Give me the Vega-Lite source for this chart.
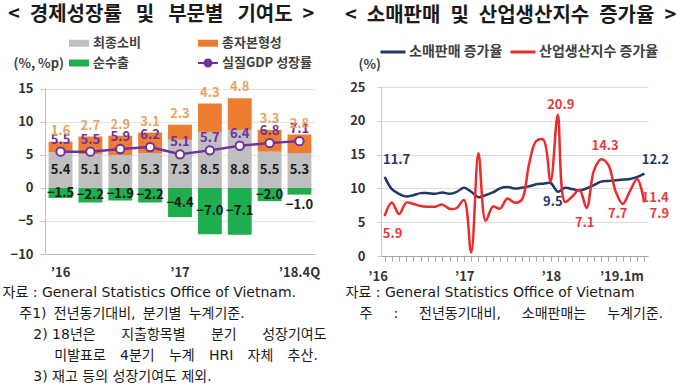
{
  "$schema": "https://vega.github.io/schema/vega-lite/v6.json",
  "background": "white",
  "padding": {"left": 2, "top": 5, "right": 0, "bottom": 0},
  "spacing": 66,
  "bounds": "flush",
  "config": {
    "view": {"stroke": null},
    "font": "Noto Sans CJK KR",
    "axis": {"labelFont": "Noto Sans CJK KR", "labelFontSize": 13, "labelFontWeight": "bold", "labelColor": "#333333", "titleFont": "Noto Sans CJK KR", "titleColor": "#333333"},
    "axisY": {"labelOverlap": false, "tickCount": 6},
    "text": {"font": "Noto Sans CJK KR"}
  },
  "resolve": {"scale": {"color": "independent"}, "legend": {"color": "independent"}},
  "datasets": {
    "gdp": [
      {"q": "16Q1", "cons": 5.4, "gcf": 1.6, "net": -1.5, "gdp": 5.5},
      {"q": "16Q2", "cons": 5.1, "gcf": 2.7, "net": -2.2, "gdp": 5.5},
      {"q": "16Q3", "cons": 5.0, "gcf": 2.9, "net": -1.9, "gdp": 5.9},
      {"q": "16Q4", "cons": 5.3, "gcf": 3.1, "net": -2.2, "gdp": 6.2},
      {"q": "17Q1", "cons": 7.3, "gcf": 2.3, "net": -4.4, "gdp": 5.1},
      {"q": "17Q2", "cons": 8.5, "gcf": 4.3, "net": -7.0, "gdp": 5.7},
      {"q": "17Q3", "cons": 8.8, "gcf": 4.8, "net": -7.1, "gdp": 6.4},
      {"q": "17Q4", "cons": 5.5, "gcf": 3.3, "net": -2.0, "gdp": 6.8},
      {"q": "18.4Q", "cons": 5.3, "gcf": 2.8, "net": -1.0, "gdp": 7.1}
    ],
    "sales": [
      {"m": "2016-01", "retail": 11.7, "iip": 5.9},
      {"m": "2016-02", "retail": 9.9, "iip": 7.9},
      {"m": "2016-03", "retail": 9.2, "iip": 6.2},
      {"m": "2016-04", "retail": 8.8, "iip": 7.9},
      {"m": "2016-05", "retail": 9.0, "iip": 7.7},
      {"m": "2016-06", "retail": 9.3, "iip": 7.4},
      {"m": "2016-07", "retail": 9.3, "iip": 7.3},
      {"m": "2016-08", "retail": 9.2, "iip": 7.3},
      {"m": "2016-09", "retail": 9.4, "iip": 7.6},
      {"m": "2016-10", "retail": 9.2, "iip": 7.0},
      {"m": "2016-11", "retail": 9.5, "iip": 7.1},
      {"m": "2016-12", "retail": 10.1, "iip": 8.3},
      {"m": "2017-01", "retail": 9.5, "iip": 0.5},
      {"m": "2017-02", "retail": 8.7, "iip": 15.2},
      {"m": "2017-03", "retail": 9.0, "iip": 5.2},
      {"m": "2017-04", "retail": 9.4, "iip": 7.3},
      {"m": "2017-05", "retail": 10.0, "iip": 7.0},
      {"m": "2017-06", "retail": 10.2, "iip": 8.5},
      {"m": "2017-07", "retail": 10.0, "iip": 7.9},
      {"m": "2017-08", "retail": 10.1, "iip": 8.3},
      {"m": "2017-09", "retail": 10.3, "iip": 13.5},
      {"m": "2017-10", "retail": 10.6, "iip": 17.0},
      {"m": "2017-11", "retail": 10.7, "iip": 17.2},
      {"m": "2017-12", "retail": 10.8, "iip": 11.0},
      {"m": "2018-01", "retail": 9.5, "iip": 20.9},
      {"m": "2018-02", "retail": 10.1, "iip": 8.0},
      {"m": "2018-03", "retail": 9.9, "iip": 8.8},
      {"m": "2018-04", "retail": 9.7, "iip": 9.8},
      {"m": "2018-05", "retail": 10.0, "iip": 7.1},
      {"m": "2018-06", "retail": 10.5, "iip": 12.6},
      {"m": "2018-07", "retail": 11.0, "iip": 14.3},
      {"m": "2018-08", "retail": 11.1, "iip": 13.5},
      {"m": "2018-09", "retail": 11.2, "iip": 9.6},
      {"m": "2018-10", "retail": 11.3, "iip": 7.7},
      {"m": "2018-11", "retail": 11.4, "iip": 9.6},
      {"m": "2018-12", "retail": 11.7, "iip": 11.4},
      {"m": "2019-01", "retail": 12.2, "iip": 7.9}
    ]
  },
  "hconcat": [
    {
      "width": 270,
      "height": 167,
      "data": {"name": "gdp"},
      "title": {"text": "<\u2002경제성장률\u2002\u2009및\u2002\u2009부문별\u2002\u2009기여도\u2002>", "anchor": "start", "frame": "group", "dx": -37, "offset": 7, "fontSize": 20, "fontWeight": "bold", "color": "#1a1a1a", "font": "Noto Sans CJK KR"},
      "encoding": {
        "x": {
          "field": "q", "type": "ordinal", "sort": null,
          "scale": {"paddingInner": 0.2, "paddingOuter": 0.12},
          "axis": {
            "labelExpr": "datum.value == '16Q1' ? '\u201916' : datum.value == '17Q1' ? '\u201917' : datum.value == '18.4Q' ? '\u201918.4Q' : ''",
            "labelAngle": 0, "labelPadding": 12, "ticks": false, "domainColor": "#BFBFBF", "grid": false, "labelOverlap": false,
            "title": [
              "자료 : General Statistics Office of Vietnam.",
              "\u200b\u2003\u2009주1)\u2009 전년동기대비,\u2009 분기별\u2009 누계기준.",
              "\u200b\u2003\u2003\u20092) 18년은\u2003\u2002 지출항목별\u2003\u2002 분기\u2003\u2002 성장기여도",
              "\u200b\u2003\u2003\u2003\u2002\u2009미발표로\u2002\u2009 4분기\u2002\u2009 누계\u2002\u2009 HRI\u2002\u2009 자체\u2002\u2009 추산.",
              "\u200b\u2003\u2003\u20093) 재고 등의 성장기여도 제외."
            ],
            "titleFont": "DejaVu Sans, Noto Sans CJK KR", "titleFontSize": 14, "titleFontWeight": "normal", "titleColor": "#1a1a1a",
            "titleAnchor": null, "titleAlign": "left", "titleBaseline": "top", "titleX": -43, "titleY": 31, "titleLineHeight": 21
          }
        }
      },
      "layer": [
        {
          "transform": [{"fold": ["cons", "gcf", "net"], "as": ["key", "value"]}],
          "mark": {"type": "bar"},
          "encoding": {
            "y": {
              "field": "value", "type": "quantitative", "stack": "zero",
              "scale": {"domain": [-10, 15.3], "nice": false, "zero": false},
              "axis": {"values": [-10, -5, 0, 5, 10, 15], "labelOverlap": false, "grid": true, "gridColor": "#E3E3E3", "domainColor": "#BFBFBF", "tickColor": "#BFBFBF", "tickSize": 5, "labelPadding": 7, "title": "(%, %p)", "titleAngle": 0, "titleAlign": "left", "titleBaseline": "middle", "titleX": -32, "titleY": -24, "titleFontSize": 13, "titleFontWeight": "bold", "titleColor": "#404040"}
            },
            "color": {
              "field": "key", "type": "nominal",
              "scale": {"domain": ["cons", "gcf", "net", "gdp"], "range": ["#BFBFBF", "#ED7D31", "#1FAE4E", "#7030A0"]},
              "legend": {
                "orient": "none", "legendX": 23, "legendY": -55, "direction": "horizontal", "columns": 2, "columnPadding": 53, "rowPadding": 1, "title": null,
                "labelExpr": "datum.value == 'cons' ? '최종소비' : datum.value == 'gcf' ? '총자본형성' : datum.value == 'net' ? '순수출' : '실질GDP 성장률'",
                "labelFont": "Noto Sans CJK KR", "labelFontSize": 13, "labelFontWeight": "bold", "labelColor": "#404040", "labelOffset": 3, "symbolSize": 400,
                "encode": {
                  "symbols": {
                    "update": {
                      "shape": {"signal": "datum.value === 'gdp' ? 'M-1,0H1M0.35,0A0.35,0.35 0 1,1 -0.35,0A0.35,0.35 0 1,1 0.35,0' : 'M-1,-0.35H1V0.35H-1Z'"},
                      "fill": {"signal": "datum.value === 'cons' ? '#BFBFBF' : datum.value === 'gcf' ? '#ED7D31' : datum.value === 'net' ? '#1FAE4E' : '#ffffff'"},
                      "stroke": {"signal": "datum.value === 'gdp' ? '#7030A0' : 'transparent'"},
                      "strokeWidth": {"value": 2},
                      "opacity": {"value": 1}
                    }
                  }
                }
              }
            },
            "order": {"field": "key", "sort": "ascending"}
          }
        },
        {
          "mark": {"type": "line", "color": "#7030A0", "strokeWidth": 2.5},
          "encoding": {"y": {"field": "gdp", "type": "quantitative", "scale": {"domain": [-10, 15.3], "nice": false, "zero": false},
            "axis": {"values": [-10, -5, 0, 5, 10, 15], "labelOverlap": false, "grid": true, "gridColor": "#E3E3E3", "domainColor": "#BFBFBF", "tickColor": "#BFBFBF", "tickSize": 5, "labelPadding": 7, "title": "(%, %p)", "titleAngle": 0, "titleAlign": "left", "titleBaseline": "middle", "titleX": -32, "titleY": -24, "titleFontSize": 13, "titleFontWeight": "bold", "titleColor": "#404040"}}}
        },
        {
          "mark": {"type": "point", "filled": true, "fill": "#ffffff", "stroke": "#7030A0", "strokeWidth": 2, "size": 70, "opacity": 1},
          "encoding": {"y": {"field": "gdp", "type": "quantitative", "scale": {"domain": [-10, 15.3], "nice": false, "zero": false},
            "axis": {"values": [-10, -5, 0, 5, 10, 15], "labelOverlap": false, "grid": true, "gridColor": "#E3E3E3", "domainColor": "#BFBFBF", "tickColor": "#BFBFBF", "tickSize": 5, "labelPadding": 7, "title": "(%, %p)", "titleAngle": 0, "titleAlign": "left", "titleBaseline": "middle", "titleX": -32, "titleY": -24, "titleFontSize": 13, "titleFontWeight": "bold", "titleColor": "#404040"}}}
        },
        {
          "mark": {"type": "text", "dy": -12, "color": "#7030A0", "fontSize": 13, "fontWeight": "bold"},
          "encoding": {
            "y": {"field": "gdp", "type": "quantitative", "scale": {"domain": [-10, 15.3], "nice": false, "zero": false},
              "axis": {"values": [-10, -5, 0, 5, 10, 15], "labelOverlap": false, "grid": true, "gridColor": "#E3E3E3", "domainColor": "#BFBFBF", "tickColor": "#BFBFBF", "tickSize": 5, "labelPadding": 7, "title": "(%, %p)", "titleAngle": 0, "titleAlign": "left", "titleBaseline": "middle", "titleX": -32, "titleY": -24, "titleFontSize": 13, "titleFontWeight": "bold", "titleColor": "#404040"}},
            "text": {"field": "gdp", "type": "quantitative", "format": ".1f"}
          }
        },
        {
          "transform": [{"calculate": "datum.cons + datum.gcf", "as": "top"}],
          "mark": {"type": "text", "dy": -11, "color": "#E9A35F", "fontSize": 13, "fontWeight": "bold"},
          "encoding": {
            "y": {"field": "top", "type": "quantitative", "scale": {"domain": [-10, 15.3], "nice": false, "zero": false},
              "axis": {"values": [-10, -5, 0, 5, 10, 15], "labelOverlap": false, "grid": true, "gridColor": "#E3E3E3", "domainColor": "#BFBFBF", "tickColor": "#BFBFBF", "tickSize": 5, "labelPadding": 7, "title": "(%, %p)", "titleAngle": 0, "titleAlign": "left", "titleBaseline": "middle", "titleX": -32, "titleY": -24, "titleFontSize": 13, "titleFontWeight": "bold", "titleColor": "#404040"}},
            "text": {"field": "gcf", "type": "quantitative", "format": ".1f"}
          }
        },
        {
          "mark": {"type": "text", "color": "#1a1a1a", "fontSize": 13, "fontWeight": "bold"},
          "encoding": {
            "y": {"datum": 2.7, "type": "quantitative", "scale": {"domain": [-10, 15.3], "nice": false, "zero": false},
              "axis": {"values": [-10, -5, 0, 5, 10, 15], "labelOverlap": false, "grid": true, "gridColor": "#E3E3E3", "domainColor": "#BFBFBF", "tickColor": "#BFBFBF", "tickSize": 5, "labelPadding": 7, "title": "(%, %p)", "titleAngle": 0, "titleAlign": "left", "titleBaseline": "middle", "titleX": -32, "titleY": -24, "titleFontSize": 13, "titleFontWeight": "bold", "titleColor": "#404040"}},
            "text": {"field": "cons", "type": "quantitative", "format": ".1f"}
          }
        },
        {
          "transform": [{"filter": "datum.q != '18.4Q'"}, {"calculate": "datum.net / 2", "as": "mid"}],
          "mark": {"type": "text", "color": "#1a1a1a", "fontSize": 13, "fontWeight": "bold"},
          "encoding": {
            "y": {"field": "mid", "type": "quantitative", "scale": {"domain": [-10, 15.3], "nice": false, "zero": false},
              "axis": {"values": [-10, -5, 0, 5, 10, 15], "labelOverlap": false, "grid": true, "gridColor": "#E3E3E3", "domainColor": "#BFBFBF", "tickColor": "#BFBFBF", "tickSize": 5, "labelPadding": 7, "title": "(%, %p)", "titleAngle": 0, "titleAlign": "left", "titleBaseline": "middle", "titleX": -32, "titleY": -24, "titleFontSize": 13, "titleFontWeight": "bold", "titleColor": "#404040"}},
            "text": {"field": "net", "type": "quantitative", "format": ".1f"}
          }
        },
        {
          "transform": [{"filter": "datum.q == '18.4Q'"}],
          "mark": {"type": "text", "dy": 10, "color": "#1a1a1a", "fontSize": 13, "fontWeight": "bold"},
          "encoding": {
            "y": {"field": "net", "type": "quantitative", "scale": {"domain": [-10, 15.3], "nice": false, "zero": false},
              "axis": {"values": [-10, -5, 0, 5, 10, 15], "labelOverlap": false, "grid": true, "gridColor": "#E3E3E3", "domainColor": "#BFBFBF", "tickColor": "#BFBFBF", "tickSize": 5, "labelPadding": 7, "title": "(%, %p)", "titleAngle": 0, "titleAlign": "left", "titleBaseline": "middle", "titleX": -32, "titleY": -24, "titleFontSize": 13, "titleFontWeight": "bold", "titleColor": "#404040"}},
            "text": {"field": "net", "type": "quantitative", "format": ".1f"}
          }
        }
      ]
    },
    {
      "width": 267,
      "height": 169,
      "data": {"name": "sales"},
      "title": {"text": "<\u2002소매판매\u2002및\u2002산업생산지수\u2002증가율\u2002>", "anchor": "start", "frame": "group", "dx": -36, "offset": 12, "fontSize": 20, "fontWeight": "bold", "color": "#1a1a1a", "font": "Noto Sans CJK KR"},
      "encoding": {
        "x": {
          "field": "m", "type": "ordinal", "sort": null,
          "scale": {"type": "point", "padding": 0.5},
          "axis": {
            "labelExpr": "datum.value == '2016-01' ? '\u201916' : datum.value == '2017-01' ? '\u201917' : datum.value == '2018-01' ? '\u201918' : datum.value == '2019-01' ? '\u201919.1m' : ''",
            "labelAngle": 0, "labelPadding": 9, "labelOverlap": false,
            "labelAlign": {"condition": {"test": "datum.value == '2019-01'", "value": "right"}, "value": "center"},
            "labelOffset": {"condition": {"test": "datum.value == '2019-01'", "value": -1}, "value": -7},
            "ticks": true, "tickSize": 5, "tickColor": "#A6A6A6", "domainColor": "#A6A6A6", "grid": false,
            "title": [
              "자료 : General Statistics Office of Vietnam",
              "\u200b\u2003주\u2003\u2002:\u2003\u2002전년동기대비,\u2003\u2002소매판매는\u2003\u2002누계기준."
            ],
            "titleFont": "DejaVu Sans, Noto Sans CJK KR", "titleFontSize": 14, "titleFontWeight": "normal", "titleColor": "#1a1a1a",
            "titleAnchor": null, "titleAlign": "left", "titleBaseline": "top", "titleX": -36, "titleY": 29, "titleLineHeight": 21
          }
        }
      },
      "layer": [
        {
          "transform": [{"fold": ["retail", "iip"], "as": ["key", "value"]}],
          "mark": {"type": "line", "strokeWidth": 2.5, "interpolate": "catmull-rom"},
          "encoding": {
            "y": {
              "field": "value", "type": "quantitative",
              "scale": {"domain": [0, 25], "nice": false},
              "axis": {"values": [0, 5, 10, 15, 20, 25], "labelOverlap": false, "grid": true, "gridColor": "#DDDDDD", "domainColor": "#C8C8C8", "tickColor": "#C8C8C8", "tickSize": 4, "labelPadding": 12, "title": "(%)", "titleAngle": 0, "titleAlign": "left", "titleBaseline": "middle", "titleX": -23, "titleY": -23, "titleFontSize": 13, "titleFontWeight": "bold", "titleColor": "#404040"}
            },
            "color": {
              "field": "key", "type": "nominal", "sort": ["retail", "iip"],
              "scale": {"domain": ["retail", "iip"], "range": ["#1F3864", "#EE2A2A"]},
              "legend": {
                "orient": "none", "legendX": -2, "legendY": -49, "direction": "horizontal", "title": null,
                "labelExpr": "datum.value == 'retail' ? '소매판매 증가율' : '산업생산지수 증가율'",
                "labelFont": "Noto Sans CJK KR", "labelFontSize": 14, "labelFontWeight": "bold", "labelColor": "#404040",
                "symbolType": "stroke", "symbolSize": 625, "symbolStrokeWidth": 3, "labelOffset": 2, "columnPadding": 1
              }
            }
          }
        },
        {
          "transform": [{"filter": "datum.m == '2016-01'"}],
          "mark": {"type": "text", "dx": 12, "dy": -17, "color": "#1F3864", "fontSize": 13, "fontWeight": "bold"},
          "encoding": {"y": {"field": "retail", "type": "quantitative", "scale": {"domain": [0, 25], "nice": false}, "axis": {"values": [0, 5, 10, 15, 20, 25], "labelOverlap": false, "grid": true, "gridColor": "#DDDDDD", "domainColor": "#C8C8C8", "tickColor": "#C8C8C8", "tickSize": 4, "labelPadding": 12, "title": "(%)", "titleAngle": 0, "titleAlign": "left", "titleBaseline": "middle", "titleX": -23, "titleY": -23, "titleFontSize": 13, "titleFontWeight": "bold", "titleColor": "#404040"}}, "text": {"field": "retail", "type": "quantitative", "format": ".1f"}}
        },
        {
          "transform": [{"filter": "datum.m == '2016-01'"}],
          "mark": {"type": "text", "dx": 8, "dy": 18, "color": "#E8393C", "fontSize": 13, "fontWeight": "bold"},
          "encoding": {"y": {"field": "iip", "type": "quantitative", "scale": {"domain": [0, 25], "nice": false}, "axis": {"values": [0, 5, 10, 15, 20, 25], "labelOverlap": false, "grid": true, "gridColor": "#DDDDDD", "domainColor": "#C8C8C8", "tickColor": "#C8C8C8", "tickSize": 4, "labelPadding": 12, "title": "(%)", "titleAngle": 0, "titleAlign": "left", "titleBaseline": "middle", "titleX": -23, "titleY": -23, "titleFontSize": 13, "titleFontWeight": "bold", "titleColor": "#404040"}}, "text": {"field": "iip", "type": "quantitative", "format": ".1f"}}
        },
        {
          "transform": [{"filter": "datum.m == '2018-01'"}],
          "mark": {"type": "text", "dx": 3, "dy": -10, "color": "#E8393C", "fontSize": 13, "fontWeight": "bold"},
          "encoding": {"y": {"field": "iip", "type": "quantitative", "scale": {"domain": [0, 25], "nice": false}, "axis": {"values": [0, 5, 10, 15, 20, 25], "labelOverlap": false, "grid": true, "gridColor": "#DDDDDD", "domainColor": "#C8C8C8", "tickColor": "#C8C8C8", "tickSize": 4, "labelPadding": 12, "title": "(%)", "titleAngle": 0, "titleAlign": "left", "titleBaseline": "middle", "titleX": -23, "titleY": -23, "titleFontSize": 13, "titleFontWeight": "bold", "titleColor": "#404040"}}, "text": {"field": "iip", "type": "quantitative", "format": ".1f"}}
        },
        {
          "transform": [{"filter": "datum.m == '2018-01'"}],
          "mark": {"type": "text", "dx": -5, "dy": 10, "color": "#1F3864", "fontSize": 13, "fontWeight": "bold"},
          "encoding": {"y": {"field": "retail", "type": "quantitative", "scale": {"domain": [0, 25], "nice": false}, "axis": {"values": [0, 5, 10, 15, 20, 25], "labelOverlap": false, "grid": true, "gridColor": "#DDDDDD", "domainColor": "#C8C8C8", "tickColor": "#C8C8C8", "tickSize": 4, "labelPadding": 12, "title": "(%)", "titleAngle": 0, "titleAlign": "left", "titleBaseline": "middle", "titleX": -23, "titleY": -23, "titleFontSize": 13, "titleFontWeight": "bold", "titleColor": "#404040"}}, "text": {"field": "retail", "type": "quantitative", "format": ".1f"}}
        },
        {
          "transform": [{"filter": "datum.m == '2018-05'"}],
          "mark": {"type": "text", "dx": -2, "dy": 15, "color": "#E8393C", "fontSize": 13, "fontWeight": "bold"},
          "encoding": {"y": {"field": "iip", "type": "quantitative", "scale": {"domain": [0, 25], "nice": false}, "axis": {"values": [0, 5, 10, 15, 20, 25], "labelOverlap": false, "grid": true, "gridColor": "#DDDDDD", "domainColor": "#C8C8C8", "tickColor": "#C8C8C8", "tickSize": 4, "labelPadding": 12, "title": "(%)", "titleAngle": 0, "titleAlign": "left", "titleBaseline": "middle", "titleX": -23, "titleY": -23, "titleFontSize": 13, "titleFontWeight": "bold", "titleColor": "#404040"}}, "text": {"field": "iip", "type": "quantitative", "format": ".1f"}}
        },
        {
          "transform": [{"filter": "datum.m == '2018-07'"}],
          "mark": {"type": "text", "dx": 4, "dy": -13, "color": "#E8393C", "fontSize": 13, "fontWeight": "bold"},
          "encoding": {"y": {"field": "iip", "type": "quantitative", "scale": {"domain": [0, 25], "nice": false}, "axis": {"values": [0, 5, 10, 15, 20, 25], "labelOverlap": false, "grid": true, "gridColor": "#DDDDDD", "domainColor": "#C8C8C8", "tickColor": "#C8C8C8", "tickSize": 4, "labelPadding": 12, "title": "(%)", "titleAngle": 0, "titleAlign": "left", "titleBaseline": "middle", "titleX": -23, "titleY": -23, "titleFontSize": 13, "titleFontWeight": "bold", "titleColor": "#404040"}}, "text": {"field": "iip", "type": "quantitative", "format": ".1f"}}
        },
        {
          "transform": [{"filter": "datum.m == '2018-10'"}],
          "mark": {"type": "text", "dx": -5, "dy": 10, "color": "#E8393C", "fontSize": 13, "fontWeight": "bold"},
          "encoding": {"y": {"field": "iip", "type": "quantitative", "scale": {"domain": [0, 25], "nice": false}, "axis": {"values": [0, 5, 10, 15, 20, 25], "labelOverlap": false, "grid": true, "gridColor": "#DDDDDD", "domainColor": "#C8C8C8", "tickColor": "#C8C8C8", "tickSize": 4, "labelPadding": 12, "title": "(%)", "titleAngle": 0, "titleAlign": "left", "titleBaseline": "middle", "titleX": -23, "titleY": -23, "titleFontSize": 13, "titleFontWeight": "bold", "titleColor": "#404040"}}, "text": {"field": "iip", "type": "quantitative", "format": ".1f"}}
        },
        {
          "transform": [{"filter": "datum.m == '2019-01'"}],
          "mark": {"type": "text", "dx": 11, "dy": -14, "color": "#1F3864", "fontSize": 13, "fontWeight": "bold"},
          "encoding": {"y": {"field": "retail", "type": "quantitative", "scale": {"domain": [0, 25], "nice": false}, "axis": {"values": [0, 5, 10, 15, 20, 25], "labelOverlap": false, "grid": true, "gridColor": "#DDDDDD", "domainColor": "#C8C8C8", "tickColor": "#C8C8C8", "tickSize": 4, "labelPadding": 12, "title": "(%)", "titleAngle": 0, "titleAlign": "left", "titleBaseline": "middle", "titleX": -23, "titleY": -23, "titleFontSize": 13, "titleFontWeight": "bold", "titleColor": "#404040"}}, "text": {"field": "retail", "type": "quantitative", "format": ".1f"}}
        },
        {
          "transform": [{"filter": "datum.m == '2018-12'"}],
          "mark": {"type": "text", "dx": 18, "dy": 19, "color": "#E8393C", "fontSize": 13, "fontWeight": "bold"},
          "encoding": {"y": {"field": "iip", "type": "quantitative", "scale": {"domain": [0, 25], "nice": false}, "axis": {"values": [0, 5, 10, 15, 20, 25], "labelOverlap": false, "grid": true, "gridColor": "#DDDDDD", "domainColor": "#C8C8C8", "tickColor": "#C8C8C8", "tickSize": 4, "labelPadding": 12, "title": "(%)", "titleAngle": 0, "titleAlign": "left", "titleBaseline": "middle", "titleX": -23, "titleY": -23, "titleFontSize": 13, "titleFontWeight": "bold", "titleColor": "#404040"}}, "text": {"field": "iip", "type": "quantitative", "format": ".1f"}}
        },
        {
          "transform": [{"filter": "datum.m == '2019-01'"}],
          "mark": {"type": "text", "dx": 15, "dy": 11, "color": "#E8393C", "fontSize": 13, "fontWeight": "bold"},
          "encoding": {"y": {"field": "iip", "type": "quantitative", "scale": {"domain": [0, 25], "nice": false}, "axis": {"values": [0, 5, 10, 15, 20, 25], "labelOverlap": false, "grid": true, "gridColor": "#DDDDDD", "domainColor": "#C8C8C8", "tickColor": "#C8C8C8", "tickSize": 4, "labelPadding": 12, "title": "(%)", "titleAngle": 0, "titleAlign": "left", "titleBaseline": "middle", "titleX": -23, "titleY": -23, "titleFontSize": 13, "titleFontWeight": "bold", "titleColor": "#404040"}}, "text": {"field": "iip", "type": "quantitative", "format": ".1f"}}
        }
      ]
    }
  ]
}
